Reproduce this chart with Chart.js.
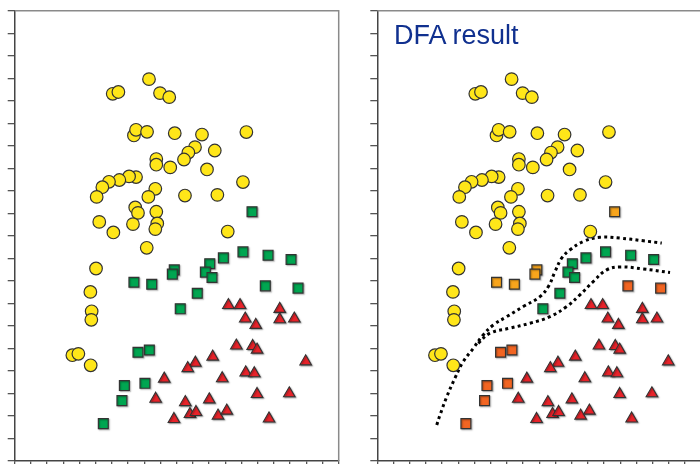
<!DOCTYPE html>
<html>
<head>
<meta charset="utf-8">
<script src="https://cdn.jsdelivr.net/npm/chart.js@4.4.1/dist/chart.umd.min.js"></script>
<style>
  html, body { margin: 0; padding: 0; background: #fff; overflow: hidden; }
  body { width: 700px; height: 464px; position: relative; }
  canvas { position: absolute; top: 0; }
  #left { left: 0; }
  #right { left: 345px; }
  #dfaTitle {
    position: absolute; left: 394px; top: 22px;
    font-family: "Liberation Sans", Arial, sans-serif; font-size: 27px; line-height: 27px;
    color: #10308f; white-space: nowrap;
  }
</style>
</head>
<body>
<canvas id="left" width="345" height="468"></canvas>
<canvas id="right" width="360" height="468"></canvas>
<div id="dfaTitle">DFA result</div>
<script>
// axis range (ticks every unit)
var axisMin = 0;
var axisMax = 20;

// yellow circles
var circleX = [8.29, 6.05, 6.40, 8.97, 9.54, 7.36, 7.49, 8.17, 9.88, 11.56, 14.30, 11.13, 10.72, 10.45, 12.35, 8.74,
  8.74, 9.60, 11.87, 14.09, 7.49, 7.06, 6.46, 5.82, 5.41, 5.06, 8.68, 8.25, 10.51, 12.51, 7.44, 7.61, 8.74, 5.22,
  6.09, 7.30, 8.80, 8.68, 13.15, 8.15, 5.02, 4.67, 4.75, 4.73, 3.56, 3.93, 4.69];
var circleY = [16.96, 16.31, 16.39, 16.34, 16.16, 14.46, 14.71, 14.62, 14.56, 14.50, 14.61, 13.94, 13.70, 13.39, 13.79, 13.41,
  13.16, 13.04, 12.95, 12.39, 12.61, 12.64, 12.48, 12.40, 12.16, 11.73, 12.09, 11.73, 11.79, 11.82, 11.26, 11.02, 11.07, 10.62,
  10.15, 10.52, 10.55, 10.30, 10.19, 9.47, 8.55, 7.51, 6.65, 6.27, 4.70, 4.76, 4.25];

// squares (green in the original grouping), class given by the DFA on the right
var squareX = [14.65, 14.09, 15.64, 17.06, 12.88, 12.04, 11.77, 12.18, 9.85, 9.73, 7.36, 8.46, 15.47, 17.49, 11.27, 10.22,
  7.61, 8.31, 6.77, 8.04, 6.62, 5.47];
var squareY = [11.07, 9.29, 9.14, 8.95, 9.02, 8.76, 8.39, 8.15, 8.49, 8.30, 7.94, 7.85, 7.78, 7.68, 7.45, 6.76,
  4.83, 4.93, 3.35, 3.45, 2.68, 1.66];
var squareDfaClass = ['light', 'green', 'green', 'green', 'green', 'green', 'green', 'green', 'light', 'light', 'light', 'light',
  'dark', 'dark', 'green', 'green', 'dark', 'dark', 'dark', 'dark', 'dark', 'dark'];

// red triangles
var triangleX = [13.19, 13.91, 14.23, 14.88, 16.36, 16.36, 17.26, 13.68, 14.69, 14.96, 12.22, 11.15, 10.68, 17.96, 14.26,
  14.79, 9.23, 12.81, 8.70, 10.53, 12.01, 14.96, 16.95, 9.83, 10.82, 11.19, 12.55, 13.09, 15.70];
var triangleY = [6.92, 6.92, 6.32, 6.04, 6.75, 6.29, 6.32, 5.12, 5.10, 4.94, 4.63, 4.36, 4.12, 4.42, 3.93,
  3.89, 3.65, 3.67, 2.76, 2.61, 2.73, 2.97, 3.00, 1.86, 2.08, 2.17, 2.01, 2.23, 1.88];

// DFA boundaries (right panel)
var upperBoundaryX = [3.67, 3.87, 4.28, 4.80, 5.29, 5.93, 6.54, 7.16, 7.99, 9.01, 10.04, 10.56, 10.97, 11.38, 11.90, 12.72,
  13.75, 14.98, 16.42, 17.56];
var upperBoundaryY = [1.60, 2.04, 2.84, 3.69, 4.40, 5.01, 5.60, 6.04, 6.41, 6.86, 7.30, 7.75, 8.41, 9.01, 9.38, 9.75,
  9.94, 9.90, 9.78, 9.68];
var lowerBoundaryX = [6.23, 6.96, 8.19, 9.43, 10.66, 11.69, 12.51, 13.33, 14.16, 14.98, 16.42, 18.07];
var lowerBoundaryY = [5.23, 5.68, 5.90, 6.12, 6.41, 6.86, 7.38, 7.97, 8.49, 8.62, 8.53, 8.37];

var colors = {
  circle: '#FFE619',
  green: '#00A651',
  light: '#F8A51C',
  dark: '#F26522',
  triangle: '#E8232A',
  edge: '#333333'
};

function points(xs, ys) {
  return xs.map(function(x, i) { return {x: x, y: ys[i]}; });
}

var framePlugin = {
  id: 'frame',
  afterDraw: function(chart) {
    var a = chart.chartArea, ctx = chart.ctx;
    ctx.save();
    ctx.strokeStyle = '#8a8a8a';
    ctx.lineWidth = 1.5;
    ctx.beginPath();
    ctx.moveTo(a.left, a.top);
    ctx.lineTo(a.right, a.top);
    ctx.lineTo(a.right, a.bottom);
    ctx.stroke();
    ctx.restore();
  }
};

var shadowPlugin = {
  id: 'shadow',
  beforeDatasetDraw: function(chart, args) {
    var ctx = chart.ctx;
    ctx.save();
    if (chart.data.datasets[args.index].shadow) {
      ctx.shadowColor = 'rgba(0,0,0,0.35)';
      ctx.shadowOffsetX = 1;
      ctx.shadowOffsetY = 1;
      ctx.shadowBlur = 1.5;
    }
  },
  afterDatasetDraw: function(chart) {
    chart.ctx.restore();
  }
};

function makeOptions(padLeft, padRight) {
  var axis = function() {
    return {
      type: 'linear', min: axisMin, max: axisMax,
      ticks: {display: false, stepSize: 1, maxTicksLimit: 21},
      grid: {drawOnChartArea: false, tickLength: 7, color: '#555', lineWidth: 1.3},
      border: {color: '#444', width: 1.5}
    };
  };
  return {
    responsive: false,
    animation: false,
    events: [],
    layout: {autoPadding: false, padding: {left: padLeft, right: padRight, top: 10.7, bottom: 0}},
    plugins: {legend: {display: false}, tooltip: {enabled: false}},
    scales: {x: axis(), y: axis()}
  };
}

function baseDatasets(squareColors) {
  return [
    {
      data: points(circleX, circleY), pointStyle: 'circle', pointRadius: 6.3,
      backgroundColor: colors.circle, borderColor: colors.edge, borderWidth: 1.2
    },
    {
      data: points(squareX, squareY), pointStyle: 'rect', pointRadius: 7, shadow: true,
      backgroundColor: squareColors, borderColor: colors.edge, borderWidth: 1.2
    },
    {
      data: points(triangleX, triangleY), pointStyle: 'triangle', pointRadius: 6.7, shadow: true,
      backgroundColor: colors.triangle, borderColor: colors.edge, borderWidth: 1.1
    }
  ];
}

function boundary(xs, ys) {
  return {
    data: points(xs, ys), showLine: true, pointRadius: 0, fill: false,
    borderColor: '#000', borderWidth: 3, borderDash: [3, 3.3], borderCapStyle: 'butt',
    tension: 0.4
  };
}

new Chart(document.getElementById('left'), {
  type: 'scatter',
  data: {datasets: baseDatasets(colors.green)},
  options: makeOptions(7.7, 6.3),
  plugins: [framePlugin, shadowPlugin]
});

var dfaDatasets = baseDatasets(squareDfaClass.map(function(c) { return colors[c]; }));
dfaDatasets.push(boundary(upperBoundaryX, upperBoundaryY));
dfaDatasets.push(boundary(lowerBoundaryX, lowerBoundaryY));

new Chart(document.getElementById('right'), {
  type: 'scatter',
  data: {datasets: dfaDatasets},
  options: makeOptions(25.3, 3.7),
  plugins: [framePlugin, shadowPlugin]
});
</script>
</body>
</html>
